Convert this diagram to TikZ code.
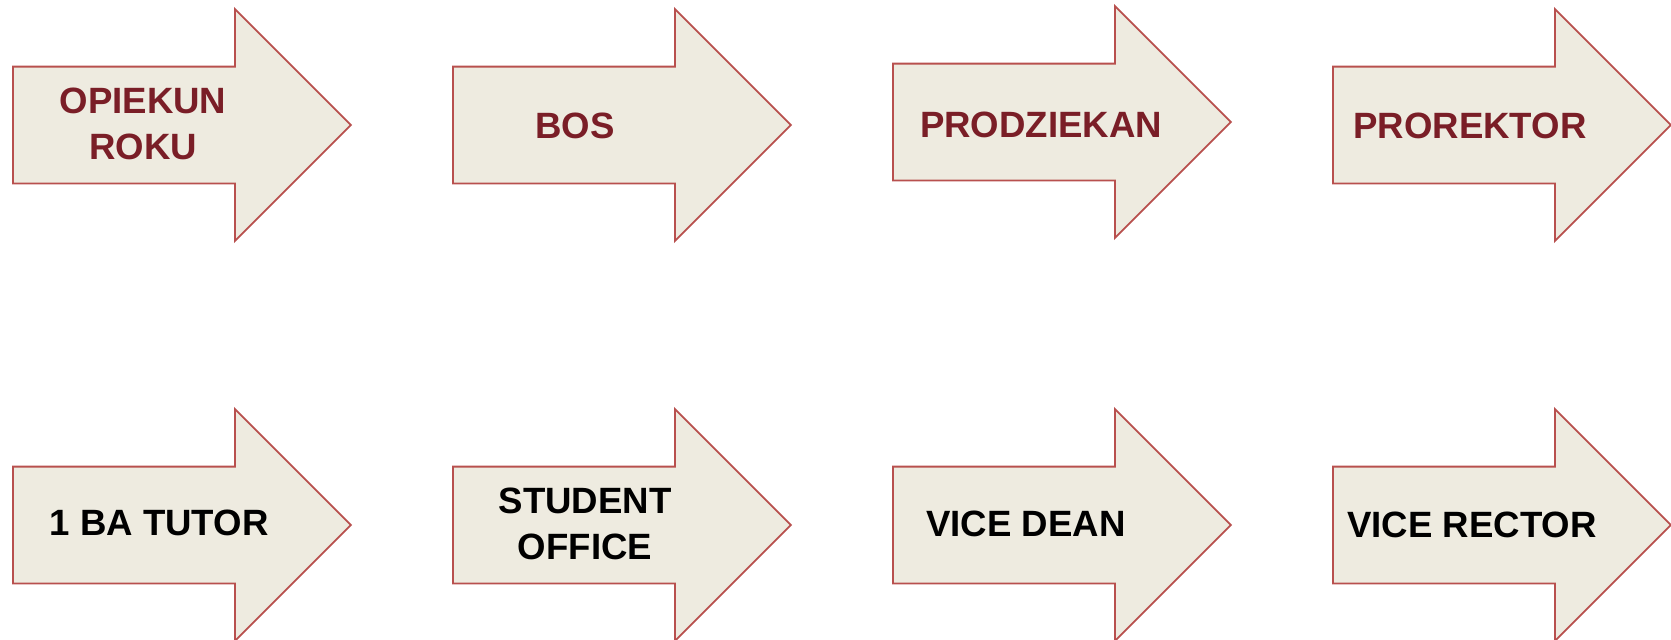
\documentclass[tikz,border=0pt]{standalone}
\usepackage{fontspec}
\setmainfont{Liberation Sans}
\usepackage{tikz}
\usetikzlibrary{shapes.arrows, positioning}

\definecolor{arrowfill}{RGB}{238,235,224}
\definecolor{arrowline}{RGB}{184,80,78}
\definecolor{plred}{RGB}{122,30,39}

\begin{document}
\begin{tikzpicture}[
        x=0.5pt, y=-0.5pt,
        pointer/.style={single arrow, draw=arrowline, fill=arrowfill, line width=0.9pt, minimum height=169pt, minimum width=115pt, single arrow head extend=28.75pt, inner xsep=0pt, inner ysep=28.75pt, anchor=tail},
        plname/.style={font=\fontsize{18.3}{23}\selectfont\bfseries, text=plred, align=center, inner sep=0pt},
        enname/.style={plname, text=black}
    ]
    \useasboundingbox (0,0) rectangle (1671,639);

    % strzalki - gorny rzad
    \node[pointer] (opiekun) at (12,125) {};
    \node[pointer] (bos) at (452,125) {};
    \node[pointer] (prodziekan) at (892,122) {};
    \node[pointer] (prorektor) at (1332,125) {};

    % strzalki - dolny rzad
    \node[pointer] (tutor) at (12,525) {};
    \node[pointer] (office) at (452,525) {};
    \node[pointer] (dean) at (892,525) {};
    \node[pointer] (rector) at (1332,525) {};

    % napisy
    \node[plname] (opiekuntxt) at ([xshift=65.5pt,yshift=0.5pt]opiekun.tail) {OPIEKUN\\ROKU};
    \node[plname] (bostxt) at ([xshift=61.5pt,yshift=-0.5pt]bos.tail) {BOS};
    \node[plname] (prodziekantxt) at ([xshift=74.5pt,yshift=-1.5pt]prodziekan.tail) {PRODZIEKAN};
    \node[plname] (prorektortxt) at ([xshift=69pt,yshift=-0.5pt]prorektor.tail) {PROREKTOR};
    \node[enname] (tutortxt) at ([xshift=73.5pt,yshift=1pt]tutor.tail) {1 BA TUTOR};
    \node[enname] (officetxt) at ([xshift=66.5pt,yshift=0.5pt]office.tail) {STUDENT\\OFFICE};
    \node[enname] (deantxt) at ([xshift=67pt,yshift=0.5pt]dean.tail) {VICE DEAN};
    \node[enname] (rectortxt) at ([xshift=70pt]rector.tail) {VICE RECTOR};

\end{tikzpicture}
\end{document}
